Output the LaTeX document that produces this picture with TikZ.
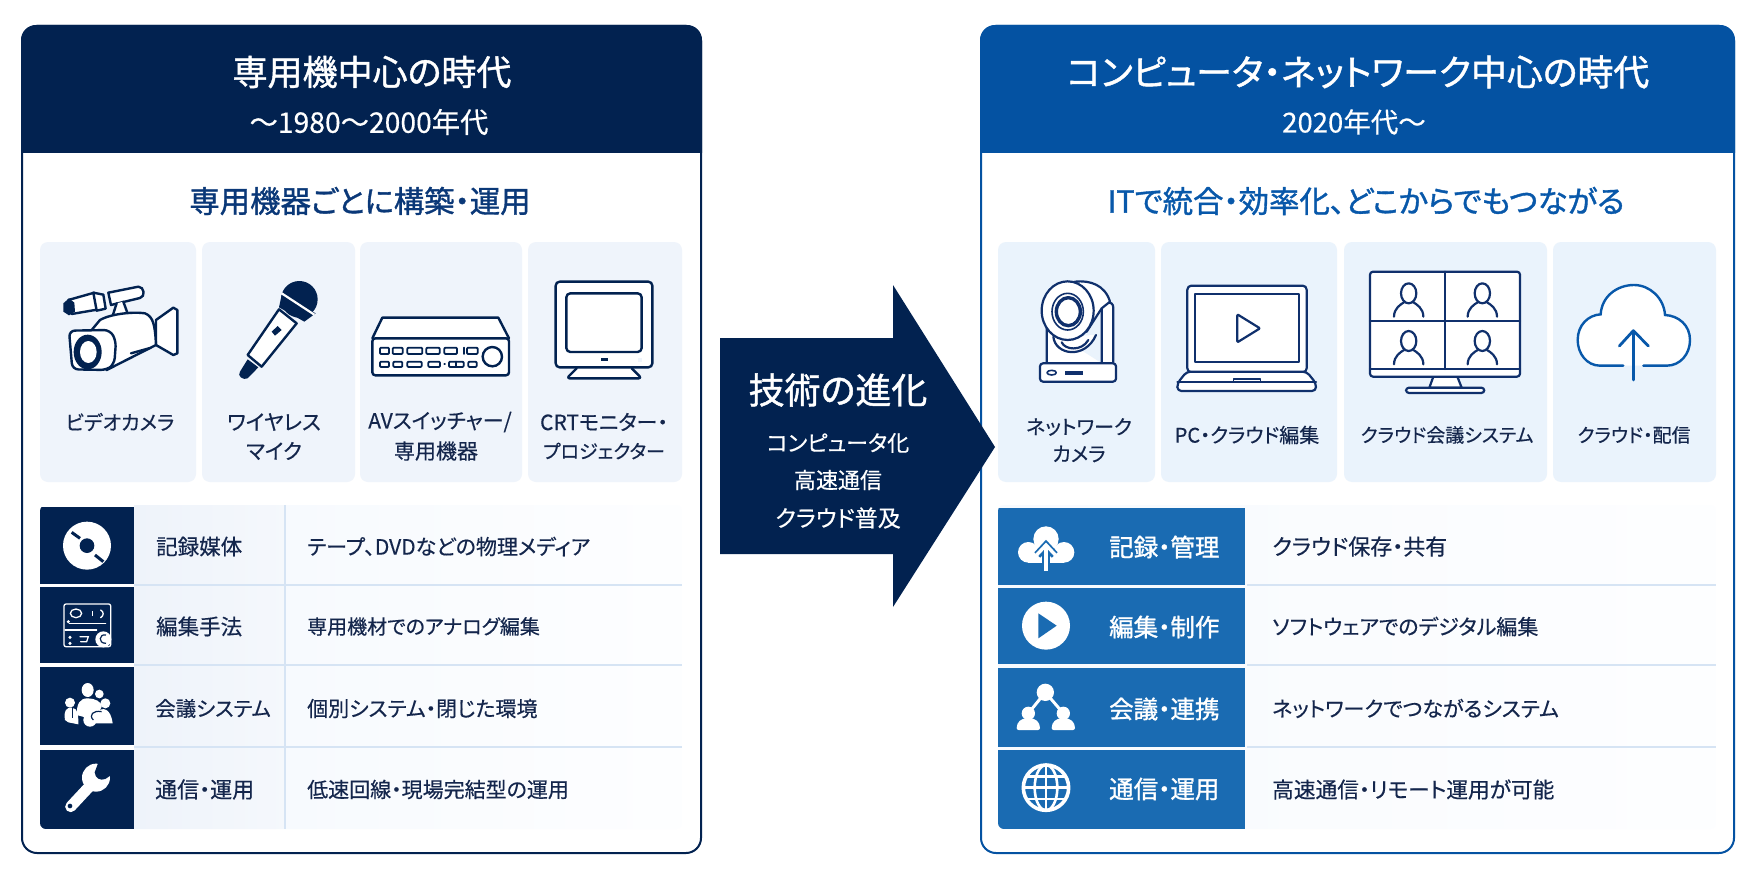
\documentclass[tikz,border=0pt]{standalone}
\usepackage{fontspec}
\setmainfont{Noto Sans CJK JP}[RawFeature=+palt, FakeBold=0.4]
\newfontfamily\medfont{Noto Sans CJK JP}[RawFeature=+palt, FakeBold=1.2]

\tikzset{
  titletext/.style={inner sep=0pt, text=white, font=\medfont\fontsize{35}{40}\selectfont},
  periodtext/.style={inner sep=0pt, text=white, font=\fontsize{27.5}{32}\selectfont},
  leadtext/.style={inner sep=0pt, font=\medfont\fontsize{30.4}{36}\selectfont},
  cardtext/.style={inner sep=0pt, text=textnavy, font=\fontsize{20}{26}\selectfont},
  cardwide/.style={inner sep=0pt, text=textnavy, font=\fontsize{21}{26}\selectfont},
  cardtight/.style={inner sep=0pt, text=textnavy, font=\fontsize{19}{26}\selectfont},
  rowlabel/.style={inner sep=0pt, anchor=west, text=textnavy, font=\fontsize{21.5}{26}\selectfont},
  rowwhite/.style={inner sep=0pt, anchor=west, text=white, font=\medfont\fontsize{24.5}{28}\selectfont},
  rowtext/.style={inner sep=0pt, anchor=west, text=textnavy, font=\fontsize{21}{26}\selectfont},
  cardleft/.style={rounded corners=8pt, fill=cardgrey},
  cardright/.style={rounded corners=8pt, fill=cardblue},
  rowline/.style={draw=rowsep, line width=2pt},
  iconline/.style={draw=navy, line width=2.4pt, line join=round, line cap=round},
  iconblue/.style={draw=midnavy, line width=2.2pt, line join=round, line cap=round},
  whiteline/.style={draw=white, line width=1.3pt, line cap=round},
}

\begin{document}
\begin{tikzpicture}[x=1pt, y=-1pt]

% Define colors
\definecolor{navy}{RGB}{2, 34, 80}
\definecolor{midnavy}{RGB}{16, 48, 108}
\definecolor{textnavy}{RGB}{20, 38, 76}
\definecolor{leadnavy}{RGB}{10, 56, 120}
\definecolor{headblue}{RGB}{4, 82, 162}
\definecolor{leadblue}{RGB}{8, 88, 170}
\definecolor{rowblue}{RGB}{26, 107, 178}
\definecolor{cardgrey}{RGB}{239, 244, 251}
\definecolor{cardblue}{RGB}{234, 243, 252}
\definecolor{rowsep}{RGB}{214, 228, 244}
\definecolor{labelfill}{RGB}{238, 243, 250}
\definecolor{textfill}{RGB}{247, 250, 254}

\useasboundingbox (0, 0) rectangle (1755, 896);
\fill[white] (0, 0) rectangle (1755, 896);

% Draw the left panel
\draw[navy, line width=2pt, rounded corners=15pt, fill=white] (22, 26) rectangle (701, 853);
\begin{scope}
  \clip (20, 24) rectangle (703, 153);
  \fill[navy, rounded corners=15pt] (21, 25) rectangle (702, 300);
\end{scope}

% Draw the right panel
\draw[headblue, line width=2pt, rounded corners=15pt, fill=white] (981, 26) rectangle (1734, 853);
\begin{scope}
  \clip (979, 24) rectangle (1736, 153);
  \fill[headblue, rounded corners=15pt] (980, 25) rectangle (1735, 300);
\end{scope}

% Add the headings
\node[titletext] (oldtitle) at (372, 72) {専用機中心の時代};
\node[periodtext, font=\fontsize{28.3}{32}\selectfont] (oldperiod) at (369, 122) {〜1980〜2000年代};
\node[leadtext, text=leadnavy] (oldlead) at (360, 201) {専用機器ごとに構築・運用};
\node[titletext, font=\medfont\fontsize{35.9}{40}\selectfont] (newtitle) at (1358, 72) {コンピュータ・ネットワーク中心の時代};
\node[periodtext] (newperiod) at (1354, 122) {2020年代〜};
\node[leadtext, text=leadblue] (newlead) at (1366, 201) {ITで統合・効率化、どこからでもつながる};

% Draw the left cards
\fill[cardleft] (40, 242) rectangle (196, 482);
\fill[cardleft] (202, 242) rectangle (355, 482);
\fill[cardleft] (360, 242) rectangle (522, 482);
\fill[cardleft] (528, 242) rectangle (682, 482);

% Draw the right cards
\fill[cardright] (998, 242) rectangle (1155, 482);
\fill[cardright] (1161, 242) rectangle (1337, 482);
\fill[cardright] (1344, 242) rectangle (1547, 482);
\fill[cardright] (1553, 242) rectangle (1716, 482);

% Card labels
\node[cardtext] (videolabel) at (120, 422) {ビデオカメラ};
\node[cardwide] (miclabela) at (274, 422) {ワイヤレス};
\node[cardwide] (miclabelb) at (274, 451) {マイク};
\node[cardwide] (avlabela) at (440, 422) {AVスイッチャー/};
\node[cardwide] (avlabelb) at (436, 451) {専用機器};
\node[cardwide] (crtlabela) at (604, 422) {CRTモニター・};
\node[cardtight] (crtlabelb) at (604, 451) {プロジェクター};
\node[cardtext] (netlabela) at (1079, 427) {ネットワーク};
\node[cardtext] (netlabelb) at (1079, 454) {カメラ};
\node[cardtext] (pclabel) at (1247, 435) {PC・クラウド編集};
\node[cardtight] (meetlabel) at (1447, 435) {クラウド会議システム};
\node[cardtight] (streamlabel) at (1634, 435) {クラウド・配信};

% Video camera
\begin{scope}[shift={(55, 270)}, scale=1/3]
  \draw[iconline, fill=white] (40, 90) -- (118, 68) -- (132, 118) -- (50, 132) -- cycle;
  \fill[navy] (25, 100) -- (42, 85) -- (58, 98) -- (60, 125) -- (42, 136) -- (25, 125) -- cycle;
  \draw[iconline, fill=white] (115, 68) -- (145, 74) -- (152, 116) -- (125, 122) -- cycle;
  \draw[iconline, fill=white] (160, 68) -- (250, 50) .. controls (268, 50) and (272, 80) .. (255, 84) -- (168, 105) -- cycle;
  \draw[iconline, fill=white] (185, 100) -- (172, 140) -- (225, 150) -- (205, 95);
  \draw[iconline, fill=white] (303, 150) -- (355, 113) -- (367, 120) -- (367, 250) -- (355, 255) -- (303, 225) -- cycle;
  \draw[iconline, fill=white] (110, 180) -- (135, 150) .. controls (170, 130) and (240, 125) .. (270, 130) .. controls (295, 140) and (300, 165) .. (303, 225) -- (155, 300) -- cycle;
  \draw[iconline] (228, 250) -- (282, 235);
  \draw[iconline, fill=white, rounded corners=6pt] (42, 182) -- (165, 180) -- (183, 212) -- (178, 282) -- (155, 300) -- (52, 298) -- cycle;
  \fill[navy] (98, 246) ellipse (42 and 52);
  \fill[white] (100, 246) ellipse (25 and 33);
\end{scope}

% Microphone
\begin{scope}[shift={(55, 270)}, scale=1/3]
  \draw[iconline, fill=white] (672, 118) -- (725, 160) -- (620, 290) -- (578, 255) -- cycle;
  \fill[navy] (733, 88) circle (55);
  \fill[navy, line join=round] (680, 75) -- (672, 112) -- (748, 155) -- (782, 130) -- cycle;
  \draw[draw=white, line width=2.2pt] (680, 70) -- (778, 134);
  \fill[navy] (650, 185) -- (668, 168) -- (680, 180) -- (660, 197) -- cycle;
  \fill[navy] (578, 268) -- (610, 292) -- (578, 325) .. controls (565, 332) and (545, 318) .. (555, 305) -- cycle;
\end{scope}

% AV switcher
\begin{scope}[shift={(365, 270)}, scale=1/3]
  \draw[iconline, fill=white] (22, 205) -- (52, 143) -- (400, 143) -- (432, 205);
  \draw[iconline, fill=white, rounded corners=3pt] (22, 205) rectangle (432, 316);
  \draw[iconline, line width=1.8pt, rounded corners=1pt] (45, 233) rectangle (72, 252);
  \draw[iconline, line width=1.8pt, rounded corners=1pt] (83, 233) rectangle (113, 252);
  \draw[iconline, line width=1.8pt, rounded corners=1pt] (127, 233) rectangle (172, 252);
  \draw[iconline, line width=1.8pt, rounded corners=1pt] (184, 233) rectangle (224, 252);
  \draw[iconline, line width=1.8pt, rounded corners=1pt] (238, 233) rectangle (276, 252);
  \draw[iconline, line width=1.8pt] (296, 233) -- (296, 252);
  \draw[iconline, line width=1.8pt, rounded corners=1pt] (306, 233) rectangle (338, 252);
  \draw[iconline, line width=1.8pt, rounded corners=1pt] (45, 275) rectangle (72, 291);
  \draw[iconline, line width=1.8pt, rounded corners=1pt] (85, 275) rectangle (112, 291);
  \draw[iconline, line width=1.8pt, rounded corners=1pt] (127, 275) rectangle (170, 291);
  \draw[iconline, line width=1.8pt, rounded corners=1pt] (190, 275) rectangle (225, 291);
  \draw[iconline, line width=1.8pt] (238, 283) -- (240, 283);
  \draw[iconline, line width=1.8pt, rounded corners=1pt] (252, 275) rectangle (296, 291);
  \draw[iconline, line width=1.8pt] (274, 275) -- (274, 291);
  \draw[iconline, line width=1.8pt, rounded corners=1pt] (310, 275) rectangle (335, 291);
  \draw[iconline] (382, 260) circle (29);
\end{scope}

% CRT monitor
\begin{scope}[shift={(365, 270)}, scale=1/3]
  \draw[iconline, fill=white, rounded corners=3pt] (635, 295) -- (605, 325) -- (830, 325) -- (800, 295);
  \draw[iconline, fill=white, rounded corners=4pt] (572, 35) rectangle (862, 292);
  \draw[iconline, fill=white, rounded corners=4pt] (604, 70) rectangle (830, 246);
  \fill[navy] (707, 265) rectangle (729, 272);
  \fill[cardgrey] (820, 263) rectangle (832, 275);
\end{scope}

% Network camera
\begin{scope}[shift={(1020, 265)}, scale=1/3]
  \draw[iconblue, fill=white] (80, 190) -- (80, 295) -- (280, 295) -- (280, 128) .. controls (280, 105) and (245, 105) .. (245, 130) -- (245, 295);
  \draw[iconblue, fill=white] (100, 215) .. controls (105, 270) and (195, 285) .. (228, 210);
  \draw[iconblue] (125, 232) .. controls (135, 255) and (185, 260) .. (205, 225);
  \draw[iconblue, fill=white] (165, 50) .. controls (210, 45) and (255, 60) .. (270, 110) -- (245, 130) -- (200, 200) -- cycle;
  \draw[iconblue, fill=white] (143, 137) ellipse (78 and 88);
  \draw[iconblue, line width=1.6pt] (143, 140) ellipse (47 and 55);
  \draw[iconblue, line width=3.4pt] (145, 140) ellipse (36 and 42);
  \draw[iconblue, fill=white, rounded corners=3pt] (60, 295) rectangle (288, 350);
  \draw[iconblue, line width=1.6pt] (95, 323) ellipse (14 and 7);
  \fill[midnavy] (135, 317) rectangle (188, 330);
\end{scope}

% Laptop
\begin{scope}[shift={(1020, 265)}, scale=1/3]
  \draw[iconblue, fill=white, rounded corners=4pt] (502, 62) -- (860, 62) -- (860, 322) -- (502, 322) -- cycle;
  \draw[iconblue, fill=white] (525, 88) rectangle (838, 292);
  \draw[iconblue, rounded corners=1pt] (652, 148) -- (720, 190) -- (652, 232) -- cycle;
  \draw[iconblue, fill=white, rounded corners=4pt] (500, 320) -- (472, 355) -- (472, 378) -- (888, 378) -- (888, 355) -- (860, 320) -- cycle;
  \draw[iconblue] (472, 352) -- (888, 352);
  \draw[iconblue, line width=1.6pt] (640, 350) -- (640, 342) -- (722, 342) -- (722, 350);
\end{scope}

% Meeting screen
\begin{scope}[shift={(1360, 265)}, scale=1/3]
  \draw[iconblue, fill=white] (220, 335) -- (208, 368) -- (305, 368) -- (292, 335);
  \draw[iconblue, fill=white, rounded corners=3pt] (138, 368) rectangle (373, 384);
  \draw[iconblue, fill=white, rounded corners=3pt] (30, 20) rectangle (480, 335);
  \draw[iconblue] (256, 20) -- (256, 312);
  \draw[iconblue] (30, 168) -- (480, 168);
  \draw[iconblue] (30, 312) -- (480, 312);
  \draw[iconblue] (146, 85) ellipse (23 and 30);
  \draw[iconblue] (102, 155) .. controls (102, 130) and (122, 118) .. (132, 112);
  \draw[iconblue] (190, 155) .. controls (190, 130) and (170, 118) .. (160, 112);
  \draw[iconblue] (367, 85) ellipse (23 and 30);
  \draw[iconblue] (323, 155) .. controls (323, 130) and (343, 118) .. (353, 112);
  \draw[iconblue] (411, 155) .. controls (411, 130) and (391, 118) .. (381, 112);
  \draw[iconblue] (146, 228) ellipse (23 and 30);
  \draw[iconblue] (102, 298) .. controls (102, 273) and (122, 261) .. (132, 255);
  \draw[iconblue] (190, 298) .. controls (190, 273) and (170, 261) .. (160, 255);
  \draw[iconblue] (367, 228) ellipse (23 and 30);
  \draw[iconblue] (323, 298) .. controls (323, 273) and (343, 261) .. (353, 255);
  \draw[iconblue] (411, 298) .. controls (411, 273) and (391, 261) .. (381, 255);
\end{scope}

% Upload cloud
\begin{scope}[shift={(1360, 265)}, scale=1/3]
  \fill[white] (720, 302) .. controls (680, 302) and (653, 265) .. (653, 225) .. controls (653, 180) and (685, 150) .. (722, 148) .. controls (725, 95) and (770, 60) .. (822, 60) .. controls (870, 60) and (912, 100) .. (915, 150) .. controls (955, 152) and (990, 180) .. (990, 225) .. controls (990, 268) and (960, 302) .. (920, 302) -- cycle;
  \draw[leadblue, line width=2.4pt, line cap=round] (790, 302) -- (720, 302) .. controls (680, 302) and (653, 265) .. (653, 225) .. controls (653, 180) and (685, 150) .. (722, 148) .. controls (725, 95) and (770, 60) .. (822, 60) .. controls (870, 60) and (912, 100) .. (915, 150) .. controls (955, 152) and (990, 180) .. (990, 225) .. controls (990, 268) and (960, 302) .. (920, 302) -- (850, 302);
  \draw[leadblue, line width=2.8pt, line cap=round] (820, 345) -- (820, 200);
  \draw[leadblue, line width=2.8pt, line cap=round, line join=round] (778, 243) -- (820, 197) -- (865, 243);
\end{scope}

% Draw the left table
\begin{scope}
  \clip[rounded corners=6pt] (40, 505) rectangle (682, 829);
  \shade[left color=labelfill, right color=labelfill!60!white] (134, 505) rectangle (285, 829);
  \shade[left color=textfill, right color=white!80!textfill] (285, 505) rectangle (682, 829);
  \fill[navy] (40, 507) rectangle (134, 584);
  \fill[navy] (40, 587) rectangle (134, 663);
  \fill[navy] (40, 667) rectangle (134, 745);
  \fill[navy] (40, 750) rectangle (134, 829);
  \draw[rowline] (134, 585) -- (682, 585);
  \draw[rowline] (134, 665) -- (682, 665);
  \draw[rowline] (134, 747) -- (682, 747);
  \draw[rowline] (285, 505) -- (285, 829);
\end{scope}

% Draw the right table
\begin{scope}
  \clip[rounded corners=6pt] (998, 505) rectangle (1716, 829);
  \shade[left color=textfill, right color=white!80!textfill] (998, 505) rectangle (1716, 829);
  \fill[rowblue] (998, 508) rectangle (1245, 585);
  \fill[rowblue] (998, 588) rectangle (1245, 664);
  \fill[rowblue] (998, 668) rectangle (1245, 747);
  \fill[rowblue] (998, 750) rectangle (1245, 829);
  \draw[rowline] (1247, 585) -- (1716, 585);
  \draw[rowline] (1247, 665) -- (1716, 665);
  \draw[rowline] (1247, 747) -- (1716, 747);
\end{scope}

% Left row texts
\node[rowlabel] (mediumlabel) at (156, 546.5) {記録媒体};
\node[rowlabel] (editlabel) at (156, 626.5) {編集手法};
\node[rowlabel, font=\fontsize{20.5}{26}\selectfont] (meetinglabel) at (155, 708.5) {会議システム};
\node[rowlabel, font=\fontsize{22}{26}\selectfont] (netlabel) at (155, 789.5) {通信・運用};
\node[rowtext] (mediumtext) at (307, 546.5) {テープ、DVDなどの物理メディア};
\node[rowtext, font=\fontsize{20}{26}\selectfont] (edittext) at (307, 626.5) {専用機材でのアナログ編集};
\node[rowtext] (meetingtext) at (307, 708.5) {個別システム・閉じた環境};
\node[rowtext] (nettext) at (307, 789.5) {低速回線・現場完結型の運用};

% Right row texts
\node[rowwhite] (recordlabel) at (1109, 547) {記録・管理};
\node[rowwhite] (makelabel) at (1109, 627) {編集・制作};
\node[rowwhite] (linklabel) at (1109, 709) {会議・連携};
\node[rowwhite] (commlabel) at (1109, 789) {通信・運用};
\node[rowtext, font=\fontsize{22}{26}\selectfont] (recordtext) at (1272, 546.5) {クラウド保存・共有};
\node[rowtext] (maketext) at (1272, 626.5) {ソフトウェアでのデジタル編集};
\node[rowtext] (linktext) at (1272, 708.5) {ネットワークでつながるシステム};
\node[rowtext, font=\fontsize{21.7}{26}\selectfont] (commtext) at (1272, 789.5) {高速通信・リモート運用が可能};

% Disc icon
\begin{scope}[shift={(40, 505)}, scale=1/3]
  \fill[white] (141, 122) circle (72);
  \fill[navy] (141, 122) circle (22);
  \draw[navy, line width=3pt] (95, 82) -- (120, 100);
  \draw[navy, line width=3pt] (165, 150) -- (190, 170);
\end{scope}

% Editing desk icon
\begin{scope}[shift={(40, 505)}, scale=1/3]
  \draw[whiteline, rounded corners=2pt] (72, 297) rectangle (212, 425);
  \draw[whiteline] (108, 325) ellipse (17 and 13);
  \fill[white] (155, 318) rectangle (159, 332);
  \draw[whiteline] (182, 315) .. controls (192, 320) and (192, 332) .. (182, 338);
  \draw[whiteline] (88, 355) -- (197, 355);
  \fill[white] (85, 350) circle (5);
  \draw[whiteline] (75, 375) -- (170, 375);
  \fill[white] (90, 397) circle (5);
  \fill[white] (90, 415) circle (5);
  \draw[whiteline] (120, 395) -- (145, 395) -- (140, 410) -- (122, 410);
  \fill[white] (190, 403) circle (24);
  \draw[navy, line width=1.2pt] (198, 390) .. controls (178, 385) and (172, 415) .. (198, 415);
\end{scope}

% People icon
\begin{scope}[shift={(40, 665)}, scale=1/3]
  \fill[white] (178, 87) circle (13);
  \fill[white] (143, 75) ellipse (18 and 21);
  \fill[white] (90, 113) circle (15);
  \fill[white] (196, 115) circle (15);
  \fill[white] (110, 150) .. controls (110, 115) and (120, 100) .. (143, 100) .. controls (165, 100) and (185, 110) .. (185, 125) -- (165, 165) -- cycle;
  \fill[white] (75, 165) .. controls (70, 135) and (80, 128) .. (95, 128) .. controls (115, 130) and (115, 150) .. (115, 178) -- (85, 172) -- cycle;
  \fill[white] (170, 140) .. controls (190, 125) and (212, 130) .. (218, 175) -- (165, 175) -- cycle;
  \fill[white] (150, 165) circle (20);
  \draw[navy, line width=1.2pt] (185, 140) .. controls (160, 135) and (145, 150) .. (160, 165);
  \draw[navy, line width=1.2pt] (98, 125) -- (98, 160);
\end{scope}

% Wrench icon
\begin{scope}[shift={(40, 665)}, scale=1/3]
  \draw[white, line width=11pt, line cap=round] (92, 425) -- (160, 352);
  \fill[white] (168, 338) circle (42);
  \fill[navy] (176, 290) -- (164, 322) .. controls (166, 340) and (180, 348) .. (196, 342) -- (226, 322) -- (226, 290) -- cycle;
  \fill[navy] (90, 423) circle (7);
\end{scope}

% Upload icon
\begin{scope}[shift={(1000, 505)}, scale=1/3]
  \fill[white] (138, 102) circle (38);
  \fill[white] (85, 142) circle (31);
  \fill[white] (192, 142) circle (31);
  \fill[white] (85, 135) rectangle (192, 173);
  \draw[rowblue, line width=8pt, line join=miter] (138, 198) -- (138, 125);
  \draw[rowblue, line width=8pt, line join=miter] (112, 150) -- (138, 122) -- (164, 150);
  \draw[white, line width=3.4pt] (138, 198) -- (138, 125);
  \draw[white, line width=3.4pt] (110, 150) -- (138, 120) -- (166, 150);
\end{scope}

% Play icon
\begin{scope}[shift={(1000, 505)}, scale=1/3]
  \fill[white] (138, 362) circle (72);
  \fill[rowblue] (115, 325) -- (170, 362) -- (115, 400) -- cycle;
\end{scope}

% Network people icon
\begin{scope}[shift={(1000, 665)}, scale=1/3]
  \draw[white, line width=3pt] (85, 145) -- (136, 82) -- (190, 145);
  \fill[white] (136, 82) circle (26);
  \fill[white] (85, 145) circle (20);
  \fill[white] (190, 145) circle (20);
  \fill[white, rounded corners=2pt] (50, 195) .. controls (50, 170) and (65, 160) .. (85, 160) .. controls (105, 160) and (120, 170) .. (120, 195) -- cycle;
  \fill[white, rounded corners=2pt] (155, 195) .. controls (155, 170) and (170, 160) .. (190, 160) .. controls (210, 160) and (225, 170) .. (225, 195) -- cycle;
\end{scope}

% Globe icon
\begin{scope}[shift={(1000, 665)}, scale=1/3]
  \draw[white, line width=3.6pt] (138, 368) circle (68);
  \draw[white, line width=2.6pt] (138, 368) ellipse (34 and 68);
  \draw[white, line width=2.6pt] (138, 300) -- (138, 436);
  \draw[white, line width=2.6pt] (78, 335) -- (198, 335);
  \draw[white, line width=2.6pt] (70, 368) -- (206, 368);
  \draw[white, line width=2.6pt] (78, 402) -- (198, 402);
\end{scope}

% Draw the middle arrow
\fill[navy] (720, 338) -- (893, 338) -- (893, 285) -- (995, 447) -- (893, 607) -- (893, 554) -- (720, 554) -- cycle;
\node[inner sep=0pt, text=white, font=\medfont\fontsize{36}{40}\selectfont] (arrowtitle) at (838, 390) {技術の進化};
\node[inner sep=0pt, text=white, font=\fontsize{22}{26}\selectfont] (arrowa) at (838, 443) {コンピュータ化};
\node[inner sep=0pt, text=white, font=\fontsize{22}{26}\selectfont] (arrowb) at (838, 480) {高速通信};
\node[inner sep=0pt, text=white, font=\fontsize{23}{26}\selectfont] (arrowc) at (838, 518) {クラウド普及};

\end{tikzpicture}
\end{document}
